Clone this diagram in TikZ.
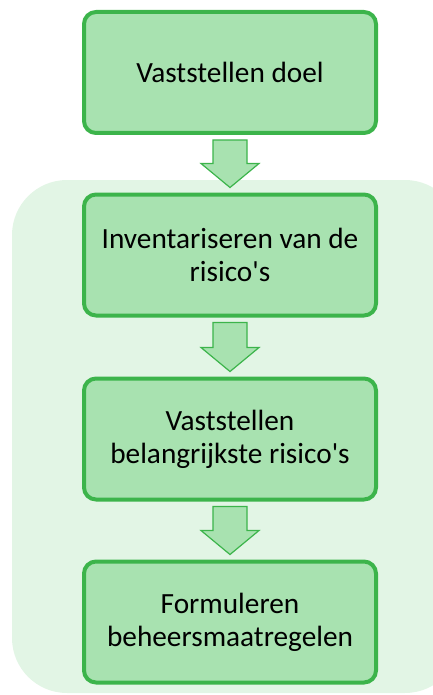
\documentclass[tikz,border=0pt]{standalone}
\usepackage{fontspec}
\setmainfont{Carlito}[Ligatures=TeXOff]
\definecolor{boxfill}{HTML}{A8E2B0}
\definecolor{boxline}{HTML}{3CB44B}
\definecolor{bgfill}{HTML}{E2F5E5}
\begin{document}
\begin{tikzpicture}[x=1pt,y=-1pt,
  stepbox/.style={draw=boxline, fill=boxfill, line width=4pt, rounded corners=12pt,
    minimum width=292pt, minimum height=121pt, align=center, inner sep=0pt,
    font=\fontsize{29.3}{33}\selectfont},
  fatarrow/.style={draw=boxline, fill=boxfill, line width=1.2pt, line join=miter}]
\useasboundingbox (0,0) rectangle (433,695);
\begin{scope}
\clip (0,0) rectangle (433,695);
\fill[bgfill, rounded corners=55pt] (12,180) rectangle (460,693);
\end{scope}
\node[stepbox] (s1) at (230,72.5) {Vaststellen doel};
\node[stepbox] (s2) at (230,255) {Inventariseren van de\\risico's};
\node[stepbox] (s3) at (230,439) {Vaststellen\\belangrijkste risico's};
\node[stepbox] (s4) at (230,622) {Formuleren\\beheersmaatregelen};
\foreach \a/\b in {s1/s2, s2/s3, s3/s4}{
  \path ([yshift=-5pt]\a.south) coordinate (t) ([yshift=5pt]\b.north) coordinate (p);
  \draw[fatarrow] ([xshift=-17pt]t) -- ([xshift=17pt]t) -- ([xshift=17pt,yshift=24pt]p)
    -- ([xshift=29pt,yshift=24pt]p) -- (p) -- ([xshift=-29pt,yshift=24pt]p)
    -- ([xshift=-17pt,yshift=24pt]p) -- cycle;
}
\end{tikzpicture}
\end{document}
